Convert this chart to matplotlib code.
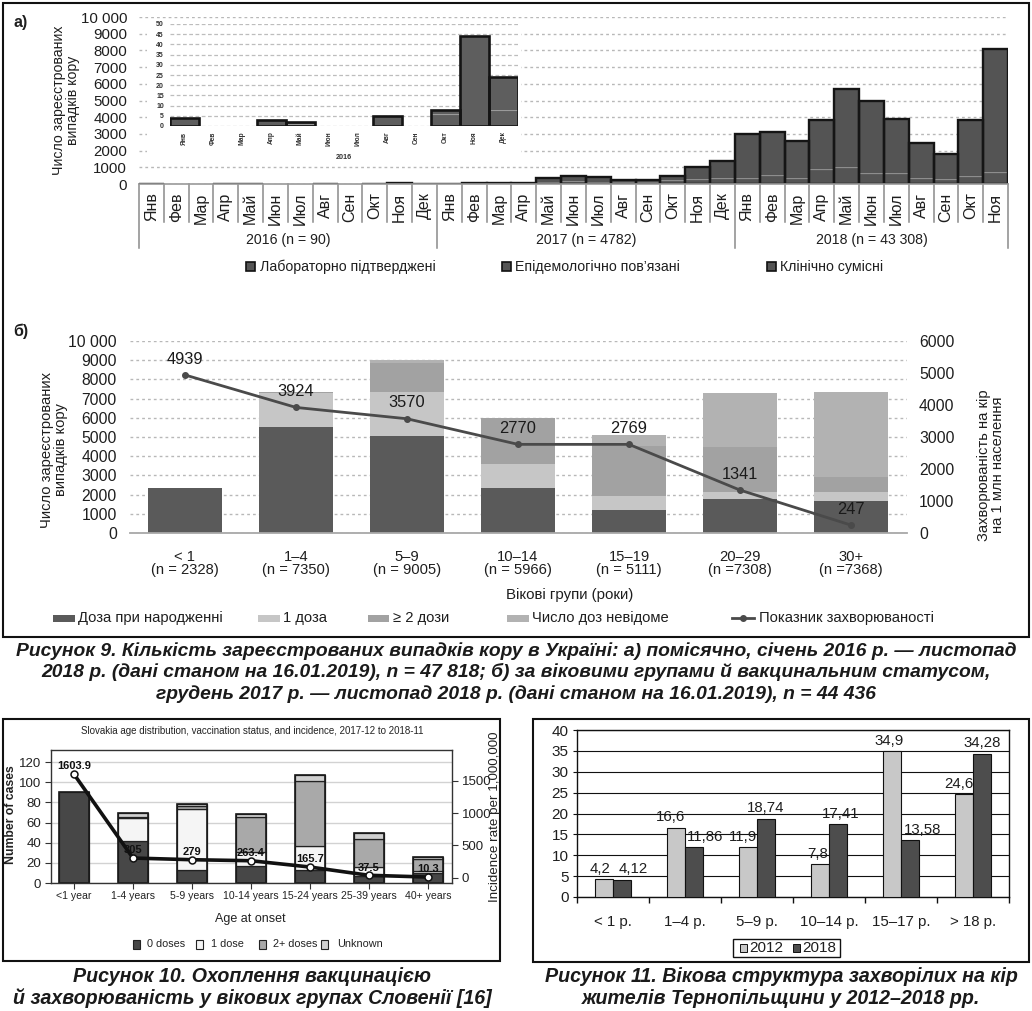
import matplotlib
matplotlib.use('Agg')
import matplotlib.pyplot as plt
import matplotlib.transforms as mtransforms
from matplotlib.patches import Rectangle
from matplotlib.lines import Line2D
import numpy as np

W, H = 1032, 1011
plt.rcParams['font.family'] = ['Liberation Sans', 'DejaVu Sans']
NARROW = ['Liberation Sans Narrow', 'Liberation Sans', 'DejaVu Sans']

# ---------------- data: figure 9 a) monthly cases ----------------
month_names = ['Янв', 'Фев', 'Мар', 'Апр', 'Май', 'Июн', 'Июл', 'Авг', 'Сен', 'Окт', 'Ноя', 'Дек']
year_labels = ['2016 (n = 90)', '2017 (n = 4782)', '2018 (n = 43 308)']
legend_a = ['Лабораторно підтверджені', 'Епідемологічно пов\u2019язані', 'Клінічно сумісні']

lab_2016 = [4, 0, 0, 3, 1, 0, 0, 5, 0, 6, 44, 8]
epid_2016 = [0, 0, 0, 0, 0, 0, 0, 0, 0, 0, 0, 0]
clin_2016 = [0, 0, 0, 0, 1, 0, 0, 0, 0, 2, 0, 16]

lab_2017 = [20, 50, 50, 60, 120, 150, 140, 90, 90, 240, 320, 330]
epid_2017 = [0, 0, 0, 0, 10, 20, 20, 10, 10, 20, 40, 60]
clin_2017 = [0, 10, 10, 20, 200, 280, 240, 140, 140, 240, 640, 1010]

lab_2018 = [380, 520, 340, 890, 1010, 670, 670, 340, 280, 500, 730]
epid_2018 = [100, 120, 90, 150, 200, 180, 150, 80, 60, 100, 150]
clin_2018 = [2530, 2470, 2160, 2800, 4450, 4130, 3080, 2060, 1460, 3240, 7220]

# ---------------- data: figure 9 b) age groups ----------------
age_groups_b = ['< 1\n(n = 2328)', '1\u20134\n(n = 7350)', '5\u20139\n(n = 9005)',
                '10\u201314\n(n = 5966)', '15\u201319\n(n = 5111)', '20\u201329\n(n =7308)',
                '30+\n(n =7368)']
dose_birth = [2328, 5500, 5070, 2330, 1200, 1750, 1670]
dose_one = [0, 1810, 2260, 1250, 720, 400, 480]
dose_two_plus = [0, 40, 1540, 2386, 2610, 2350, 780]
dose_unknown = [0, 0, 135, 0, 581, 2808, 4438]
incidence_b = [4939, 3924, 3570, 2770, 2769, 1341, 247]
legend_b = ['Доза при народженні', '1 доза', '\u2265 2 дози', 'Число доз невідоме',
            'Показник захворюваності']

# ---------------- data: figure 10 Slovakia ----------------
sk_groups = ['<1 year', '1-4 years', '5-9 years', '10-14 years', '15-24 years',
             '25-39 years', '40+ years']
sk_zero = [90, 42, 13, 17, 13, 7, 10]
sk_one = [0, 23, 60, 14, 24, 9, 2]
sk_two = [0, 1, 3, 35, 64, 28, 12]
sk_unknown = [0, 3, 2, 2, 6, 6, 2]
sk_incidence = [1603.9, 305, 279, 263.4, 165.7, 37.5, 10.3]
sk_inc_labels = ['1603.9', '305', '279', '263.4', '165.7', '37.5', '10.3']
sk_legend = ['0 doses', '1 dose', '2+ doses', 'Unknown']

# ---------------- data: figure 11 Ternopil ----------------
tern_groups = ['< 1 р.', '1\u20134 р.', '5\u20139 р.', '10\u201314 р.', '15\u201317 р.', '> 18 р.']
tern_2012 = [4.2, 16.6, 11.9, 7.8, 34.9, 24.6]
tern_2018 = [4.12, 11.86, 18.74, 17.41, 13.58, 34.28]
tern_2012_lbl = ['4,2', '16,6', '11,9', '7,8', '34,9', '24,6']
tern_2018_lbl = ['4,12', '11,86', '18,74', '17,41', '13,58', '34,28']

# ================= drawing =================
fig = plt.figure(figsize=(W / 100, H / 100), dpi=100)


def add_ax(x0, y0, x1, y1, **kw):
    return fig.add_axes([x0 / W, 1 - y1 / H, (x1 - x0) / W, (y1 - y0) / H], **kw)


def stacked(ax, x, layers, colors, width, inner_ecs, inner_lw, outer_ec=None, outer_lw=0, zorder=2):
    bottom = np.zeros(len(x))
    for vals, c, ec in zip(layers, colors, inner_ecs):
        v = np.asarray(vals, float)
        bars = ax.bar(x, v, width, bottom=bottom, color=c, edgecolor=ec,
                      linewidth=inner_lw if ec != 'none' else 0, zorder=zorder)
        for b, h in zip(bars, v):
            if h <= 0:
                b.set_visible(False)
        bottom = bottom + v
    if outer_lw:
        bars = ax.bar(x, bottom, width, fill=False, edgecolor=outer_ec,
                      linewidth=outer_lw, zorder=zorder + 0.1)
        for b, h in zip(bars, bottom):
            if h <= 0:
                b.set_visible(False)
    return bottom


TXT = '#1e1e1e'

# ---------- panel a main ----------
axA = add_ax(139, 17, 1008, 184)
months_all = month_names + month_names + month_names[:11]
lab_all = lab_2016 + lab_2017 + lab_2018
epid_all = epid_2016 + epid_2017 + epid_2018
clin_all = clin_2016 + clin_2017 + clin_2018
xa = np.arange(len(months_all))
stacked(axA, xa, [lab_all, epid_all, clin_all], ['#545454', '#545454', '#545454'], 1.0,
        ['#8d8d8d', 'none', 'none'], 0.9, '#151515', 1.7)
axA.set_xlim(-0.5, len(months_all) - 0.5)
axA.set_ylim(0, 10000)
yt = np.arange(0, 10001, 1000)
axA.set_yticks(yt)
axA.set_yticklabels(['10 000' if v == 10000 else str(v) for v in yt], fontsize=10.8, color=TXT)
axA.tick_params(axis='y', length=0, pad=8.5)
axA.set_xticks([])
axA.yaxis.grid(True, ls=(0, (2, 2.2)), color='#b8b8b8', lw=1)
axA.set_axisbelow(True)
for s in ['top', 'right', 'left']:
    axA.spines[s].set_visible(False)
axA.spines['bottom'].set_color('#9a9a9a')
axA.spines['bottom'].set_linewidth(1.2)

transA = mtransforms.blended_transform_factory(axA.transData, axA.transAxes)
hA = 167.0
for i in range(len(months_all) + 1):
    L = 64 if i in (0, 12, 24, len(months_all)) else 38
    axA.plot([i - 0.5, i - 0.5], [0, -L / hA], color='#8a8a8a', lw=1.1,
             transform=transA, clip_on=False)
for i, m in enumerate(months_all):
    axA.text(i, -8.5 / hA, m, rotation=90, ha='center', va='top', fontsize=11.5,
             family=NARROW, color=TXT, transform=transA)
for k, yl in enumerate(year_labels):
    start = 12 * k
    end = min(12 * (k + 1), len(months_all))
    axA.text((start + end - 1) / 2, -56 / hA, yl, ha='center', va='center', fontsize=10.2,
             color=TXT, transform=transA)

# ---------- panel a inset (2016) ----------
bgI = add_ax(147, 19, 521, 165)
bgI.set_facecolor('white')
bgI.set_xticks([])
bgI.set_yticks([])
for s in bgI.spines.values():
    s.set_visible(False)

axI = add_ax(169.5, 24, 517.5, 126)
axI.patch.set_alpha(0)
xi = np.arange(12)
stacked(axI, xi, [lab_2016, epid_2016, clin_2016], ['#5e5e5e', '#5e5e5e', '#5e5e5e'], 1.0,
        ['#9a9a9a', 'none', 'none'], 0.8, '#141414', 1.9)
axI.set_xlim(-0.5, 11.5)
axI.set_ylim(0, 50)
axI.set_yticks(np.arange(0, 51, 5))
axI.set_yticklabels([str(v) for v in range(0, 51, 5)], fontsize=5, fontweight='bold', color='#333')
axI.tick_params(axis='y', length=0, pad=4)
axI.set_xticks(xi)
axI.set_xticklabels(month_names, rotation=90, fontsize=4.8, fontweight='bold', color='#333')
axI.tick_params(axis='x', length=0, pad=4)
axI.yaxis.grid(True, ls=(0, (3, 2)), color='#bdbdbd', lw=0.9)
axI.set_axisbelow(True)
for s in axI.spines.values():
    s.set_visible(False)
axI.text(0.5, -0.31, '2016', transform=axI.transAxes, ha='center', va='center',
         fontsize=5.2, fontweight='bold', color='#333')

# ---------- panel b ----------
axB = add_ax(129.5, 341, 906.5, 533)
xb = np.arange(len(age_groups_b))
stacked(axB, xb, [dose_birth, dose_one, dose_two_plus, dose_unknown],
        ['#5a5a5a', '#c6c6c6', '#a2a2a2', '#b2b2b2'], 0.66, ['none'] * 4, 0)
axB.set_xlim(-0.5, len(age_groups_b) - 0.5)
axB.set_ylim(0, 10000)
axB.set_yticks(yt)
axB.set_yticklabels(['10 000' if v == 10000 else str(v) for v in yt], fontsize=11.3, color=TXT)
axB.tick_params(axis='y', length=0, pad=9)
axB.set_xticks(xb)
axB.set_xticklabels(age_groups_b, fontsize=10.6, color=TXT, linespacing=0.95)
axB.tick_params(axis='x', length=0, pad=12)
axB.yaxis.grid(True, ls=(0, (2, 2.2)), color='#b8b8b8', lw=1)
axB.set_axisbelow(True)
for s in ['top', 'right', 'left']:
    axB.spines[s].set_visible(False)
axB.spines['bottom'].set_color('#a8a8a8')
axB.spines['bottom'].set_linewidth(1.3)

axB2 = axB.twinx()
axB2.set_ylim(0, 6000)
axB2.set_yticks(np.arange(0, 6001, 1000))
axB2.set_yticklabels([str(v) for v in range(0, 6001, 1000)], fontsize=11.3, color=TXT)
axB2.tick_params(axis='y', length=0, pad=9)
for s in axB2.spines.values():
    s.set_visible(False)
axB2.plot(xb, incidence_b, color='#4a4a4a', lw=2.0, marker='o', ms=4, zorder=5)
for xv, yv in zip(xb, incidence_b):
    axB2.annotate(str(yv), (xv, yv), xytext=(0, 6), textcoords='offset points',
                  ha='center', va='bottom', fontsize=11.8, color='#1a1a1a')

# ---------- figure 10 Slovakia ----------
axS = add_ax(51, 750, 452, 883)
xs = np.arange(len(sk_groups))
stacked(axS, xs, [sk_zero, sk_one, sk_two, sk_unknown],
        ['#474747', '#f5f5f5', '#a9a9a9', '#d0d0d0'], 0.51, ['#222222'] * 4, 0.9, '#1a1a1a', 1.2)
axS.set_xlim(-0.39, len(sk_groups) - 0.59)
axS.set_ylim(0, 132)
axS.set_yticks(np.arange(0, 121, 20))
axS.set_yticklabels([str(v) for v in range(0, 121, 20)], fontsize=9.5, family=NARROW, color='#222')
axS.tick_params(axis='y', length=4, pad=3, color='#333')
axS.set_xticks(xs)
axS.set_xticklabels(sk_groups, fontsize=7.6, family=NARROW, color='#222')
axS.tick_params(axis='x', length=4, pad=2, color='#333')
axS.yaxis.grid(True, color='#d2d2d2', lw=1)
axS.set_axisbelow(True)
for s in axS.spines.values():
    s.set_color('#333')
    s.set_linewidth(1)

axS2 = axS.twinx()
axS2.set_ylim(-82, 1980)
axS2.set_yticks([0, 500, 1000, 1500])
axS2.set_yticklabels(['0', '500', '1000', '1500'], fontsize=9.5, family=NARROW, color='#222')
axS2.tick_params(axis='y', length=4, pad=3, color='#333')
for s in axS2.spines.values():
    s.set_visible(False)
axS2.plot(xs, sk_incidence, color='#111111', lw=2.6, marker='o', ms=5, mfc='white',
          mec='#111111', mew=1.1, zorder=5)
for xv, yv, lb in zip(xs, sk_incidence, sk_inc_labels):
    axS2.annotate(lb, (xv, yv), xytext=(0, 2), textcoords='offset points', ha='center',
                  va='bottom', fontsize=8, family=NARROW, fontweight='bold', color='#111')

# ---------- figure 11 Ternopil ----------
axT = add_ax(577, 730, 1009, 897)
xt = np.arange(len(tern_groups))
off = 0.122
bw = 0.245
axT.bar(xt - off, tern_2012, bw, color='#c8c8c8', edgecolor='#111', lw=0.8, zorder=3)
axT.bar(xt + off, tern_2018, bw, color='#4d4d4d', edgecolor='#111', lw=0.8, zorder=3)
axT.set_xlim(-0.5, len(tern_groups) - 0.5)
axT.set_ylim(0, 40)
axT.set_yticks(np.arange(0, 41, 5))
axT.set_yticklabels([str(v) for v in range(0, 41, 5)], fontsize=11, color=TXT)
axT.tick_params(axis='y', length=3, pad=3, color='#111')
axT.set_xticks(xt)
axT.set_xticklabels(tern_groups, fontsize=10.8, color=TXT)
axT.set_xticks(np.arange(-0.5, len(tern_groups)), minor=True)
axT.tick_params(axis='x', which='major', length=0, pad=13)
axT.tick_params(axis='x', which='minor', length=4, width=1, color='#111')
axT.yaxis.grid(True, color='#111', lw=0.8)
axT.set_axisbelow(True)
for s in axT.spines.values():
    s.set_color('#111')
    s.set_linewidth(1)
dx_2012 = [-3, -4, -4, -2, -2, -4]
dx_2018 = [8, 8, 0, 2, 9, 0]
for i in range(len(tern_groups)):
    axT.annotate(tern_2012_lbl[i], (xt[i] - off, tern_2012[i]), xytext=(dx_2012[i], 2.5),
                 textcoords='offset points', ha='center', va='bottom', fontsize=10.8, color=TXT)
    axT.annotate(tern_2018_lbl[i], (xt[i] + off, tern_2018[i]), xytext=(dx_2018[i], 2.5),
                 textcoords='offset points', ha='center', va='bottom', fontsize=10.8, color=TXT)

# ---------- overlay for frames, legends, captions ----------
ov = fig.add_axes([0, 0, 1, 1])
ov.set_xlim(0, W)
ov.set_ylim(H, 0)
ov.patch.set_alpha(0)
ov.axis('off')


def T(x, y, s, **kw):
    kw.setdefault('va', 'center')
    kw.setdefault('color', TXT)
    ov.text(x, y, s, **kw)


def R(x0, y0, x1, y1, **kw):
    ov.add_patch(Rectangle((x0, y0), x1 - x0, y1 - y0, **kw))


# frames
R(3, 3, 1029, 637, fill=False, ec='#111', lw=1.5)
R(3, 719, 500, 961, fill=False, ec='#111', lw=1.5)
R(533, 719, 1029, 962, fill=False, ec='#111', lw=1.5)

# panel labels and axis titles
T(13, 23, 'а)', fontsize=11.5, fontweight='bold')
T(13, 331, 'б)', fontsize=11.5, fontweight='bold')
T(66, 100, 'Число зареєстрованих\nвипадків кору', rotation=90, ha='center', fontsize=10.2,
  linespacing=1.0)
T(54, 450, 'Число зареєстрованих\nвипадків кору', rotation=90, ha='center', fontsize=10.6,
  linespacing=1.0)
T(991, 465, 'Захворюваність на кір\nна 1 млн населення', rotation=90, ha='center',
  fontsize=10.6, linespacing=1.0)
T(570, 595, 'Вікові групи (роки)', ha='center', fontsize=10.8)

# legend a
for xsq, xtx, lbl in zip([246, 502, 767], [260, 515, 780], legend_a):
    R(xsq, 262, xsq + 9, 271, fc='#555555', ec='#111', lw=1.2)
    T(xtx, 267, lbl, fontsize=10.2)

# legend b
for (x0, x1, xtx), c, lbl in zip([(53, 75, 78), (258, 280, 283), (368, 389, 393), (507, 529, 532)],
                                 ['#5a5a5a', '#c6c6c6', '#a2a2a2', '#b2b2b2'], legend_b[:4]):
    R(x0, 615, x1, 622, fc=c, ec='none')
    T(xtx, 618, lbl, fontsize=10.6)
ov.add_line(Line2D([732, 754], [618, 618], color='#4a4a4a', lw=2))
ov.plot([743], [618], marker='o', ms=4, color='#4a4a4a')
T(759, 618, legend_b[4], fontsize=10.6)

# figure 10 texts
T(252, 731, 'Slovakia age distribution, vaccination status, and incidence, 2017-12 to 2018-11',
  ha='center', fontsize=7.0, family=NARROW, color='#222')
T(11, 815, 'Number of cases', rotation=90, ha='center', fontsize=8.8, fontweight='bold',
  color='#222')
T(495, 817, 'Incidence rate per 1,000,000', rotation=90, ha='center', fontsize=9.6, color='#222')
T(250, 919, 'Age at onset', ha='center', fontsize=9, family=NARROW, color='#222')
for xsq, xtx, c, lbl in zip([133, 196, 259, 321], [147, 211, 273, 337],
                            ['#474747', '#f5f5f5', '#a9a9a9', '#d0d0d0'], sk_legend):
    R(xsq, 940, xsq + 7, 949, fc=c, ec='#222', lw=0.8)
    T(xtx, 944, lbl, fontsize=7.8, family=NARROW, color='#222')

# figure 11 legend
R(733, 939, 840, 957, fill=False, ec='#111', lw=1)
R(740, 944, 747, 952, fc='#c8c8c8', ec='#111', lw=0.7)
T(749, 948, '2012', fontsize=11)
R(793, 944, 800, 952, fc='#4d4d4d', ec='#111', lw=0.7)
T(802, 948, '2018', fontsize=11)

# captions
capkw = dict(ha='center', fontsize=13.9, fontweight='bold', style='italic', color='#1a1a1a')
T(516, 651, 'Рисунок 9. Кількість зареєстрованих випадків кору в Україні: а) помісячно, '
  'січень 2016 р. \u2014 листопад', **capkw)
T(516, 672, '2018 р. (дані станом на 16.01.2019), n = 47 818; б) за віковими групами й '
  'вакцинальним статусом,', **capkw)
T(516, 694, 'грудень 2017 р. \u2014 листопад 2018 р. (дані станом на 16.01.2019), n = 44 436',
  **capkw)
capkw['fontsize'] = 14.1
T(252, 976, 'Рисунок 10. Охоплення вакцинацією', **capkw)
T(252, 998, 'й захворюваність у вікових групах Словенії [16]', **capkw)
T(781, 977, 'Рисунок 11. Вікова структура захворілих на кір', **capkw)
T(781, 999, 'жителів Тернопільщини у 2012\u20132018 рр.', **capkw)

fig.savefig('out.png', dpi=100)
